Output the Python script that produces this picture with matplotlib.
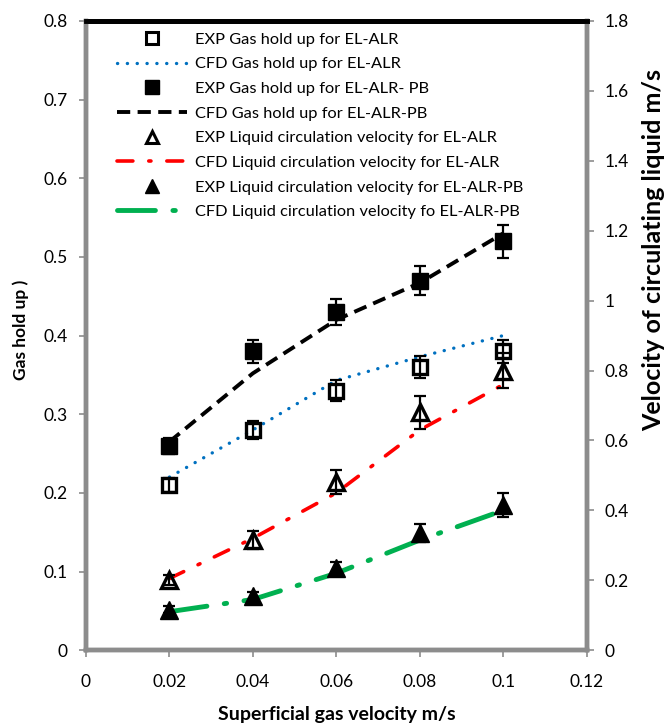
"""
Gas hold-up and liquid circulation velocity in the EL-ALR with and
without packed bed: experiment (markers with error bars) vs. CFD (lines).
"""

import matplotlib

matplotlib.use("Agg")

import matplotlib.pyplot as plt
from matplotlib.lines import Line2D
from matplotlib.patches import Rectangle
from matplotlib.ticker import FuncFormatter


plt.rcParams["font.family"] = ["Lato", "DejaVu Sans"]

U_G = [0.02, 0.04, 0.06, 0.08, 0.1]

# gas hold up (left axis)
EXP_GAS_ALR = [0.21, 0.28, 0.33, 0.36, 0.38]
EXP_GAS_ALR_ERR = [0.009, 0.011, 0.013, 0.014, 0.015]
CFD_GAS_ALR = [0.22, 0.28, 0.343, 0.373, 0.40]

EXP_GAS_PB = [0.26, 0.38, 0.43, 0.47, 0.52]
EXP_GAS_PB_ERR = [0.01, 0.015, 0.017, 0.019, 0.021]
CFD_GAS_PB = [0.265, 0.352, 0.42, 0.467, 0.53]

# liquid circulation velocity (right axis)
EXP_LIQ_ALR = [0.2, 0.315, 0.48, 0.68, 0.8]
EXP_LIQ_ALR_ERR = [0.015, 0.025, 0.034, 0.048, 0.05]
CFD_LIQ_ALR = [0.205, 0.32, 0.45, 0.63, 0.76]

EXP_LIQ_PB = [0.115, 0.155, 0.235, 0.335, 0.415]
EXP_LIQ_PB_ERR = [0.01, 0.012, 0.016, 0.025, 0.035]
CFD_LIQ_PB = [0.11, 0.145, 0.22, 0.315, 0.40]

LABELS = [
    "EXP Gas hold up for EL-ALR",
    "CFD Gas hold up for EL-ALR",
    "EXP Gas hold up for EL-ALR- PB",
    "CFD Gas hold up for EL-ALR-PB",
    "EXP Liquid circulation velocity for EL-ALR",
    "CFD Liquid circulation velocity for EL-ALR",
    "EXP Liquid circulation velocity for EL-ALR-PB",
    "CFD Liquid circulation velocity fo EL-ALR-PB",
]

BLUE = "#0070c0"
RED = "#ff0000"
GREEN = "#00b050"

# line styles: colour, width, dash pattern, cap style
CFD_STYLES = {
    "gas_alr": dict(color=BLUE, lw=2.4, dashes=(0.05, 2.9), dash_capstyle="round"),
    "gas_pb": dict(color="black", lw=2.8, dashes=(3.4, 1.9), dash_capstyle="butt"),
    "liq_alr": dict(color=RED, lw=2.6, dashes=(4.4, 4.4, 0.6, 4.4), dash_capstyle="round"),
    "liq_pb": dict(color=GREEN, lw=3.5, dashes=(7.8, 3.6, 0.5, 3.6), dash_capstyle="round"),
}

MARKERS = {
    "gas_alr": dict(marker="s", ms=10, mfc="none", mec="black", mew=2.4),
    "gas_pb": dict(marker="s", ms=12, mfc="black", mec="black", mew=1),
    "liq_alr": dict(marker="^", ms=12, mfc="none", mec="black", mew=2.4),
    "liq_pb": dict(marker="^", ms=13, mfc="black", mec="black", mew=1),
}

# smaller symbols used in the legend
LEGEND_MARKERS = {
    "gas_alr": dict(marker="s", ms=8, mfc="none", mec="black", mew=2.2),
    "gas_pb": dict(marker="s", ms=9.5, mfc="black", mec="black", mew=1),
    "liq_alr": dict(marker="^", ms=8.5, mfc="none", mec="black", mew=2.2),
    "liq_pb": dict(marker="^", ms=9.5, mfc="black", mec="black", mew=1),
}


def plot_cfd(axis, values, key):
    style = CFD_STYLES[key]
    axis.plot(
        U_G,
        values,
        color=style["color"],
        linewidth=style["lw"],
        dashes=style["dashes"],
        dash_capstyle=style["dash_capstyle"],
        zorder=2,
    )


def plot_exp(axis, values, errors, key):
    axis.errorbar(
        U_G,
        values,
        yerr=errors,
        fmt="none",
        ecolor="black",
        elinewidth=1.6,
        capsize=4.2,
        capthick=1.6,
        zorder=3,
    )
    axis.plot(U_G, values, linestyle="none", zorder=4, **MARKERS[key])


def main():
    fig = plt.figure(figsize=(6.66, 7.24), dpi=100)
    axis = fig.add_axes([0.129, 0.102, 0.752, 0.869])
    right = axis.twinx()

    plot_cfd(axis, CFD_GAS_ALR, "gas_alr")
    plot_cfd(axis, CFD_GAS_PB, "gas_pb")
    plot_exp(axis, EXP_GAS_ALR, EXP_GAS_ALR_ERR, "gas_alr")
    plot_exp(axis, EXP_GAS_PB, EXP_GAS_PB_ERR, "gas_pb")

    plot_cfd(right, CFD_LIQ_ALR, "liq_alr")
    plot_cfd(right, CFD_LIQ_PB, "liq_pb")
    plot_exp(right, EXP_LIQ_ALR, EXP_LIQ_ALR_ERR, "liq_alr")
    plot_exp(right, EXP_LIQ_PB, EXP_LIQ_PB_ERR, "liq_pb")

    axis.set_xlim(0, 0.12)
    axis.set_ylim(0, 0.8)
    right.set_ylim(0, 1.8)
    axis.set_xticks([0, 0.02, 0.04, 0.06, 0.08, 0.1, 0.12])
    axis.set_yticks([i / 10 for i in range(9)])
    right.set_yticks([i / 5 for i in range(10)])

    short = FuncFormatter(lambda v, _: f"{v:g}")
    axis.xaxis.set_major_formatter(short)
    axis.yaxis.set_major_formatter(short)
    right.yaxis.set_major_formatter(short)

    for ax in (axis, right):
        ax.tick_params(
            direction="out", length=5, width=1.2, color="#8c8c8c",
            labelsize=12.5, labelcolor="black",
        )
        for spine in ax.spines.values():
            spine.set_color("#8c8c8c")
            spine.set_linewidth(3.2)
        ax.spines["top"].set_color("black")
        ax.spines["top"].set_linewidth(3.5)
    axis.tick_params(axis="x", pad=12)
    axis.tick_params(axis="y", pad=8)
    right.tick_params(axis="y", pad=8)

    # dark core line inside the grey frame
    axis.add_patch(
        Rectangle(
            (0, 0), 1, 1, transform=axis.transAxes, fill=False,
            edgecolor="black", linewidth=1.0, zorder=10, clip_on=False,
        )
    )

    axis.set_xlabel("Superficial gas velocity m/s", fontsize=14,
                    fontweight="bold", labelpad=12)
    fig.text(0.031, 0.544, "Gas hold up )", rotation=90,
             ha="center", va="center", fontsize=12.5, fontweight="bold")
    fig.text(0.964, 0.655, "Velocity of circulating liquid m/s", rotation=90,
             ha="left", va="center", fontsize=18, fontweight="bold")

    handles = []
    for key in ["gas_alr", "gas_pb", "liq_alr", "liq_pb"]:
        handles.append(Line2D([], [], linestyle="none", **LEGEND_MARKERS[key]))
        style = CFD_STYLES[key]
        handles.append(
            Line2D([], [], color=style["color"], linewidth=style["lw"],
                   dashes=style["dashes"], dash_capstyle=style["dash_capstyle"])
        )
    leg = axis.legend(
        handles, LABELS, loc="upper left", bbox_to_anchor=(0.062, 0.982),
        frameon=False, fontsize=11.8, handlelength=4.3, handletextpad=0.45,
        labelspacing=0.62, borderaxespad=0, borderpad=0,
    )
    leg.set_zorder(20)

    fig.savefig("out.png", dpi=100)
    plt.close(fig)


if __name__ == "__main__":
    main()
